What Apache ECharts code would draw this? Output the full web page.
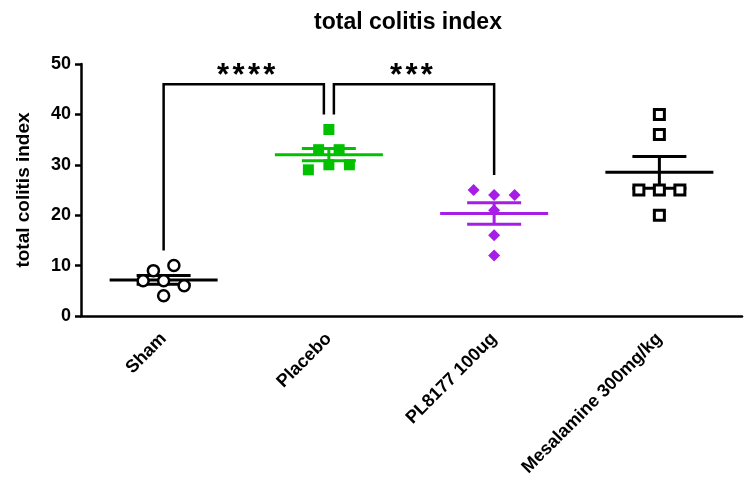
<!DOCTYPE html>
<html><head><meta charset="utf-8">
<script src="https://cdn.jsdelivr.net/npm/echarts@6/dist/echarts.min.js"></script>
<style>html,body{margin:0;padding:0;background:#fff}#chart{width:745px;height:483px}</style>
</head><body><div id="chart"></div>
<script>
// ---- data ----
const categories = ['Sham', 'Placebo', 'PL8177 100ug', 'Mesalamine 300mg/kg'];
const shamValues = [4, 7, 7, 6, 9, 10];
const placeboValues = [37, 33, 33, 29, 30, 30];
const pl8177Values = [12, 16, 21, 25, 24, 24];
const mesalamineValues = [40, 36, 25, 25, 25, 20];
const comparisons = [
  { from: 0, to: 1, label: '****' },
  { from: 1, to: 2, label: '***' }
];
const titleText = 'total colitis index';
const yAxisName = 'total colitis index';
const yMin = 0, yMax = 50, yInterval = 10;

// ---- style ----
const FONT = '"Liberation Sans", Arial, Helvetica, sans-serif';
const groups = [shamValues, placeboValues, pl8177Values, mesalamineValues];
const groupColors = ['#000000', '#00c000', '#a61ee6', '#000000'];
const groupSymbols = [
  { symbol: 'circle', size: 11, fill: '#ffffff', border: '#000000', bw: 2.5 },
  { symbol: 'rect', size: 11, fill: '#00c000', border: '#00c000', bw: 0 },
  { symbol: 'diamond', size: 12, fill: '#a61ee6', border: '#a61ee6', bw: 0 },
  { symbol: 'rect', size: 10, fill: '#ffffff', border: '#000000', bw: 3 }
];
const SLOT_PX = 20.5;
const MEAN_HALF = 54, CAP_HALF = 27, LW = 3;
const BRACKET_LEVEL = 46, LEG_PAD = 3, LEG_GAP = 5;

function mean(a) { return a.reduce((s, v) => s + v, 0) / a.length; }
function sem(a) {
  const m = mean(a);
  const v = a.reduce((s, x) => s + (x - m) * (x - m), 0) / (a.length - 1);
  return Math.sqrt(v) / Math.sqrt(a.length);
}
// Column scatter layout: points with near-equal values share a row and spread sideways
function slots(values) {
  const idx = values.map((v, i) => i).sort((a, b) => values[a] - values[b] || a - b);
  const rows = []; let cur = null;
  idx.forEach(i => {
    if (cur && values[i] - values[cur[0]] <= 1.5) cur.push(i);
    else { cur = [i]; rows.push(cur); }
  });
  const out = new Array(values.length);
  rows.forEach(r => { r.sort((a, b) => a - b); r.forEach((i, k) => { out[i] = k - (r.length - 1) / 2; }); });
  return out;
}

const scatterSeries = groups.map((vals, g) => {
  const sl = slots(vals);
  const s = groupSymbols[g];
  return {
    type: 'scatter', z: 5,
    symbol: s.symbol, symbolSize: s.size,
    itemStyle: { color: s.fill, borderColor: s.border, borderWidth: s.bw, opacity: 1 },
    emphasis: { disabled: true },
    data: vals.map((v, i) => ({ value: [g, v], symbolOffset: [sl[i] * SLOT_PX, 0] }))
  };
});

const meanSeries = {
  type: 'custom', z: 3, silent: true,
  data: groups.map((vals, g) => [g, mean(vals), sem(vals)]),
  renderItem: (params, api) => {
    const g = api.value(0), m = api.value(1), s = api.value(2);
    const c = api.coord([g, m]), hi = api.coord([g, m + s]), lo = api.coord([g, m - s]);
    const st = { stroke: groupColors[g], lineWidth: LW };
    return { type: 'group', children: [
      { type: 'line', shape: { x1: c[0] - MEAN_HALF, y1: c[1], x2: c[0] + MEAN_HALF, y2: c[1] }, style: st },
      { type: 'line', shape: { x1: c[0], y1: hi[1], x2: c[0], y2: lo[1] }, style: st },
      { type: 'line', shape: { x1: c[0] - CAP_HALF, y1: hi[1], x2: c[0] + CAP_HALF, y2: hi[1] }, style: st },
      { type: 'line', shape: { x1: c[0] - CAP_HALF, y1: lo[1], x2: c[0] + CAP_HALF, y2: lo[1] }, style: st }
    ]};
  }
};

const bracketData = comparisons.map(c => [
  c.from, c.to,
  Math.max.apply(null, groups[c.from]) + LEG_PAD,
  Math.max.apply(null, groups[c.to]) + LEG_PAD
]);
const bracketSeries = {
  type: 'custom', z: 4, silent: true,
  data: bracketData,
  renderItem: (params, api) => {
    const i = params.dataIndex;
    const from = api.value(0), to = api.value(1), lf = api.value(2), lt = api.value(3);
    const shiftFrom = comparisons.some(c => c.to === from) ? LEG_GAP : 0;
    const shiftTo = comparisons.some(c => c.from === to) ? -LEG_GAP : 0;
    const pTop1 = api.coord([from, BRACKET_LEVEL]), pTop2 = api.coord([to, BRACKET_LEVEL]);
    const pF = api.coord([from, lf]), pT = api.coord([to, lt]);
    const x1 = pTop1[0] + shiftFrom, x2 = pTop2[0] + shiftTo;
    const children = [{
      type: 'polyline',
      shape: { points: [[x1, pF[1]], [x1, pTop1[1]], [x2, pTop2[1]], [x2, pT[1]]] },
      style: { stroke: '#000', lineWidth: 2.5, fill: null }
    }];
    const label = comparisons[i].label;
    const n = label.length, cx = (pTop1[0] + pTop2[0]) / 2, step = 15.4;
    for (let k = 0; k < n; k++) {
      children.push({
        type: 'text',
        x: cx + (k - (n - 1) / 2) * step, y: pTop1[1] - 8,
        style: { text: '*', font: 'bold 31px ' + FONT, fill: '#000', align: 'center', verticalAlign: 'middle' }
      });
    }
    return { type: 'group', children };
  }
};

const chart = echarts.init(document.getElementById('chart'), null, { renderer: 'canvas' });
chart.setOption({
  animation: false,
  backgroundColor: '#ffffff',
  graphic: [{
    type: 'text', x: 408, y: 23,
    style: { text: titleText, font: 'bold 23px ' + FONT, fill: '#000', align: 'center', verticalAlign: 'middle' }
  }],
  grid: { left: 81, width: 661, top: 64, bottom: 167, containLabel: false },
  xAxis: {
    type: 'category', data: categories, boundaryGap: true,
    axisLine: { lineStyle: { color: '#000', width: 2.5 } },
    axisTick: { alignWithLabel: true, length: 6, lineStyle: { color: '#000', width: 2.5 } },
    axisLabel: { rotate: 45, margin: 20, color: '#000', fontWeight: 'bold', fontSize: 18, fontFamily: FONT },
    splitLine: { show: false }
  },
  yAxis: {
    type: 'value', min: yMin, max: yMax, interval: yInterval,
    name: yAxisName, nameLocation: 'middle', nameRotate: 90, nameGap: 48,
    nameTextStyle: { color: '#000', fontWeight: 'bold', fontSize: 19, fontFamily: FONT },
    axisLine: { show: true, lineStyle: { color: '#000', width: 2.5 } },
    axisTick: { show: true, length: 6, lineStyle: { color: '#000', width: 2.5 } },
    axisLabel: { margin: 10, color: '#000', fontWeight: 'bold', fontSize: 18, fontFamily: FONT },
    splitLine: { show: false }
  },
  series: [meanSeries, bracketSeries].concat(scatterSeries)
});
</script>
</body></html>
